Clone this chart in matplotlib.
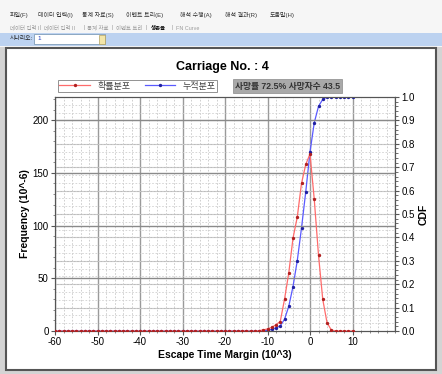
import matplotlib.pyplot as plt
import matplotlib as mpl
import numpy as np
from matplotlib.patches import Rectangle
from matplotlib.lines import Line2D
from matplotlib.ticker import MultipleLocator

mpl.rcParams['font.family'] = ['Liberation Sans', 'Noto Sans CJK KR']
mpl.rcParams['axes.unicode_minus'] = False

# 데이터 (x: -60 ~ 10, 1 간격)
x_vals = np.arange(-60, 11)
freq_tail = [0.3, 1, 2, 3.5, 6, 9, 30, 55, 88, 108, 140, 158, 168, 125, 72, 30, 8, 1, 0, 0, 0, 0, 0]   # x = -12 .. 10
cdf_tail = [0.0, 0.001, 0.003, 0.007, 0.013, 0.022, 0.05, 0.105, 0.19, 0.30, 0.44, 0.595, 0.765,
            0.89, 0.96, 0.99, 1.0, 1.0, 1.0, 1.0, 1.0, 1.0, 1.0]                                  # x = -12 .. 10
freq = [0.0] * 48 + freq_tail
cdf = [0.0] * 48 + cdf_tail

title = 'Carriage No. : 4'
legend_labels = ['확률분포', '누적분포']
info_text = '사망률 72.5% 사망자수 43.5'
menu_items = ['파일(F)', '데이터 입력(I)', '통계 자료(S)', '이벤트 트리(E)', '해석 수행(A)', '해석 결과(R)', '도움말(H)']
menu_x = [10, 38, 82, 126, 180, 225, 270]
tab_items = ['데이터 입력 I', '|', '데이터 입력 II', '|', '통계 자료', '|', '이벤트 트리', '|', '생존율', '|', 'FN Curve']
tab_x = [10, 40, 44, 83, 87, 112, 116, 146, 151, 172, 176]

W, H = 442, 374
def fx(px):
    return px / W
def fy(py):
    return 1 - py / H

fig = plt.figure(figsize=(W / 100, H / 100), dpi=100)
fig.patch.set_facecolor('#f6f6f6')

# 상단 메뉴 / 탭 / 툴바
for t, xp in zip(menu_items, menu_x):
    fig.text(fx(xp), fy(15), t, fontsize=4.3, color='#333333', va='center')
for t, xp in zip(tab_items, tab_x):
    bold = t == '생존율'
    fig.text(fx(xp), fy(28), t, fontsize=3.9, va='center',
             color='#111111' if bold else '#9a9a9a', fontweight='bold' if bold else 'normal')
fig.patches.append(Rectangle((0, fy(46)), 1, fy(33) - fy(46), transform=fig.transFigure,
                             facecolor='#bcd2f0', edgecolor='none', zorder=-2))
fig.text(fx(10), fy(39), '시나리오:', fontsize=4.2, color='#222222', va='center')
fig.patches.append(Rectangle((fx(34), fy(44)), fx(105) - fx(34), fy(34) - fy(44), transform=fig.transFigure,
                             facecolor='white', edgecolor='#7f9db9', lw=0.6, zorder=-1))
fig.patches.append(Rectangle((fx(99), fy(43.5)), fx(105) - fx(99), fy(34.5) - fy(43.5), transform=fig.transFigure,
                             facecolor='#f3e6a8', edgecolor='#b0a060', lw=0.5, zorder=-1))
fig.text(fx(37), fy(39), '1', fontsize=4.6, color='#2040c0', va='center', zorder=3)

# 차트 패널
fig.patches.append(Rectangle((0, 0), 1, fy(47), transform=fig.transFigure,
                             facecolor='#d4d4d4', edgecolor='none', zorder=-3))
fig.patches.append(Rectangle((fx(6), fy(370)), fx(436) - fx(6), fy(48) - fy(370), transform=fig.transFigure,
                             facecolor='white', edgecolor='#555555', lw=1.5, zorder=-2))

ax = fig.add_axes([fx(55), fy(331), fx(395) - fx(55), fy(97) - fy(331)])
ax2 = ax.twinx()
ax2.set_zorder(1)
ax.set_zorder(2)
ax.set_facecolor('none')
ax2.set_facecolor('none')

ax.set_xlim(-60, 20)
ax.set_ylim(0, 222)
ax2.set_ylim(0, 1)

ax.set_xticks(range(-60, 11, 10))
ax.xaxis.set_minor_locator(MultipleLocator(2))
ax.set_yticks(range(0, 201, 50))
ax.yaxis.set_minor_locator(MultipleLocator(10))
ax2.set_yticks(np.arange(0, 1.01, 0.1))
ax2.set_yticklabels(['%.1f' % v for v in np.arange(0, 1.01, 0.1)])
ax2.yaxis.set_minor_locator(MultipleLocator(0.02))

# 그리드
for xv in range(-60, 21, 10):
    ax2.axvline(xv, color='#9a9a9a', lw=1.0, zorder=0)
for xv in np.arange(-58, 20, 2):
    if xv % 10:
        ax2.axvline(xv, color='#c8c8c8', lw=0.6, ls=(0, (2, 2)), zorder=0)
for yv in np.arange(0.1, 1.0, 0.1):
    ax2.axhline(yv, color='#bcbcbc', lw=0.8, zorder=0)
for yv in np.arange(1 / 30, 1, 1 / 30):
    ax2.axhline(yv, color='#d0d0d0', lw=0.6, ls=(0, (2, 2)), zorder=0)
for yv in range(50, 201, 50):
    ax.axhline(yv, color='#8a8a8a', lw=1.0, zorder=0)

ax2.plot(x_vals, cdf, color='#5a5aff', lw=0.9, marker='o', ms=1.4, mfc='#2020a0', mec='#2020a0', zorder=3)
ax.plot(x_vals, freq, color='#ff6b6b', lw=0.9, marker='o', ms=1.4, mfc='#b02020', mec='#b02020', zorder=4)

for a in (ax, ax2):
    for s in a.spines.values():
        s.set_color('#555555')
        s.set_linewidth(0.8)
ax.tick_params(axis='both', which='major', labelsize=7, length=3, color='#555555', pad=1.5)
ax.tick_params(axis='both', which='minor', length=1.5, color='#777777')
ax2.tick_params(axis='y', which='major', labelsize=7, length=3, color='#555555', pad=1.5)
ax2.tick_params(axis='y', which='minor', length=2, color='#555555')

ax.set_xlabel('Escape Time Margin (10^3)', fontsize=7.5, fontweight='bold', labelpad=2)
ax.set_ylabel('Frequency (10^-6)', fontsize=7.5, fontweight='bold', labelpad=2)
ax2.set_ylabel('CDF', fontsize=7.5, fontweight='bold', labelpad=3)

fig.text(fx(222), fy(67), title, fontsize=9, fontweight='bold', ha='center', va='center')

handles = [Line2D([0, 0.5, 1], [0, 0, 0], color='#ff6b6b', lw=0.9, marker='o', ms=1.4, mfc='#b02020',
                  mec='#b02020', markevery=[1]),
           Line2D([0, 0.5, 1], [0, 0, 0], color='#5a5aff', lw=0.9, marker='o', ms=1.4, mfc='#2020a0',
                  mec='#2020a0', markevery=[1])]
leg = fig.legend(handles, legend_labels, loc='center left', bbox_to_anchor=(fx(53), fy(86)), ncol=2,
                 fontsize=6.5, frameon=True, fancybox=False, edgecolor='#777777', handlelength=3.4,
                 handletextpad=0.8, columnspacing=1.6, borderpad=0.2, labelcolor='#444444')
leg.get_frame().set_linewidth(0.7)

fig.text(fx(235), fy(86), info_text, fontsize=6.3, fontweight='bold', color='#333333', va='center',
         bbox=dict(boxstyle='square,pad=0.25', facecolor='#a9a9a9', edgecolor='#8a8a8a', lw=0.5))

plt.savefig('out.png', dpi=100)
